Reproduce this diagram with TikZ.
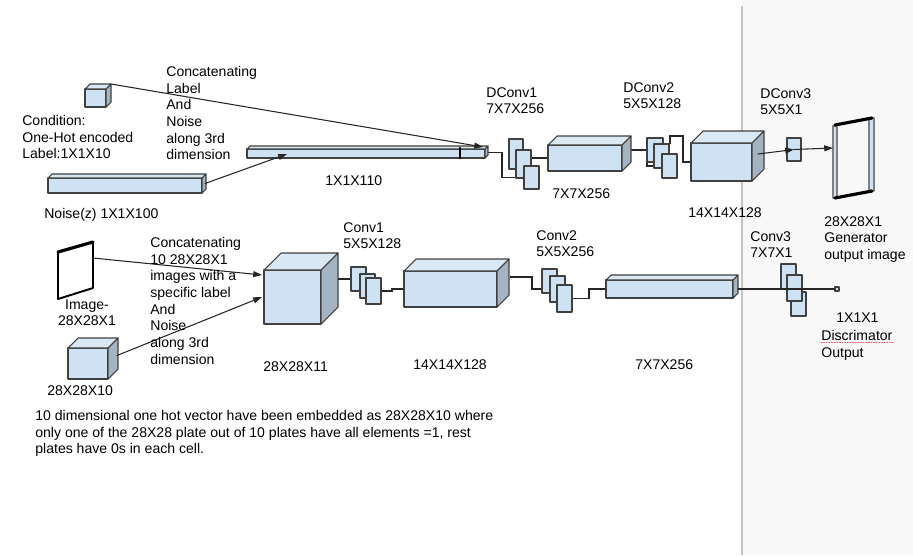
\documentclass[tikz,border=0pt]{standalone}
\usepackage{fontspec}
\setmainfont{Liberation Sans}
\usetikzlibrary{arrows.meta,backgrounds}
\definecolor{facefill}{HTML}{CFE2F3}
\definecolor{topfill}{HTML}{DAE8F4}
\definecolor{sidefill}{HTML}{A5B4C2}
\definecolor{edgegray}{HTML}{404040}
\definecolor{panelgray}{HTML}{F8F8F8}
\definecolor{sepgray}{HTML}{C4C4C4}
\newcommand{\pxu}{0.02cm}
\tikzset{
  face/.style={draw=edgegray, fill=facefill, line width=0.6pt, inner sep=0pt, outer sep=0pt, anchor=north west},
  topf/.style={draw=edgegray, fill=topfill, line width=0.6pt},
  sidef/.style={draw=edgegray, fill=sidefill, line width=0.6pt},
  filt/.style={face, minimum width=15*\pxu, minimum height=24*\pxu},
  lbl/.style={inner sep=0pt, font=\fontsize{8pt}{9.5pt}\selectfont, align=left, anchor=north west},
  wire/.style={line width=0.6pt, draw=black!85},
  arr/.style={wire, -{Triangle[length=5pt,width=3.4pt]}},
  rim/.style={line width=1.8pt, draw=black},
  every picture/.style={line cap=round, line join=round}
}
% name, x, y, width, height, depth (in px)
\newcommand{\cuboid}[6]{%
  \node[face, minimum width=#4*\pxu, minimum height=#5*\pxu] (#1) at (#2,#3) {};
  \filldraw[topf] (#1.north west) -- ++(#6,-#6) -- ++(#4,0) -- (#1.north east) -- cycle;
  \filldraw[sidef] (#1.north east) -- ++(#6,-#6) -- ++(0,#5) -- (#1.south east) -- cycle;
}

\begin{document}
\begin{tikzpicture}[x=0.02cm, y=-0.02cm]
  \useasboundingbox (0,0) rectangle (913,555);
  \begin{scope}[on background layer]
    \fill[white] (0,0) rectangle (742,555);
    \fill[panelgray] (742,0) rectangle (913,555);
    \draw[sepgray, line width=0.8pt] (742,6) -- (742,555);
  \end{scope}

  % generator
  \cuboid{cond}{85}{89}{21}{18}{5}
  \cuboid{noise}{48}{178}{154}{15}{4}
  \cuboid{cat}{247}{149}{238}{9}{3}
  \draw[line width=1.7pt] (460,148) -- (460,158);
  \node[face, minimum width=14*\pxu, minimum height=30*\pxu] (f1a) at (509,139) {};
  \node[face, minimum width=15*\pxu, minimum height=28*\pxu] (f1b) at (516,150) {};
  \node[face, minimum width=15*\pxu, minimum height=23*\pxu] (f1c) at (524,166) {};
  \cuboid{b1}{548}{145}{74}{26}{9}
  \node[filt, minimum width=16*\pxu] (f2a) at (647,138) {};
  \node[filt] (f2b) at (654,144) {};
  \node[filt] (f2c) at (662,154) {};
  \cuboid{b2}{691}{143}{61}{38}{12}
  \node[face, minimum width=14*\pxu, minimum height=23*\pxu] (f3) at (787,138) {};
  \filldraw[face, draw=gray] (833,126) rectangle (837,198);
  \filldraw[face, draw=gray] (869,118) rectangle (874,191);
  \draw[rim] (835,125) -- (872,118);
  \draw[rim] (835,198) -- (872,191);
  \coordinate (gen) at (833,148);

  \begin{scope}[on background layer]
    \draw[wire] (cat.east) ++(3,-1) -- ++(14,0) |- (f1c.west);
    \draw[wire] (f1b.east |- b1.west) -- (b1.west);
    \draw[wire] (b1.east) ++(9,-8) -| ([shift={(-7,-2)}]f2b.south west) -- ([shift={(0,-2)}]f2b.south west);
    \draw[wire] (f2b.north east) ++(1,0) -- ++(0,-8) -| ([shift={(-8,0)}]b2.west) -- (b2.west);
  \end{scope}
  \draw[arr] ([shift={(5,-5)}]cond.north east) -- ([shift={(-2,-2)}]cat.north east);
  \draw[arr] ([shift={(3,-2)}]noise.east) -- ([shift={(40,-4)}]cat.south west);
  \draw[arr] ([shift={(6,-8)}]b2.east) -- (f3.center);
  \draw[arr] (f3.center) -- (gen);

  \node[lbl] (condlbl) at (22,115) {Condition:\\One-Hot encoded\\Label:1X1X10};
  \node[lbl] (noiselbl) at (44,208) {Noise(z) 1X1X100};
  \node[lbl] (joinlbl) at (166,66) {Concatenating\\Label\\And\\Noise\\along 3rd\\dimension};
  \node[lbl] (catlbl) at (325,175) {1X1X110};
  \node[lbl] (dc1lbl) at (486,87) {DConv1\\7X7X256};
  \node[lbl] (b1lbl) at (552,188) {7X7X256};
  \node[lbl] (dc2lbl) at (623,82) {DConv2\\5X5X128};
  \node[lbl] (b2lbl) at (688,207) {14X14X128};
  \node[lbl] (dc3lbl) at (760,88) {DConv3\\5X5X1};
  \node[lbl] (genlbl) at (824,216) {28X28X1\\Generator\\output image};

  % discriminator
  \draw[line width=1.1pt] (58,252) -- (58,299) -- (93,288) -- (93,242);
  \draw[rim] (58,252) -- (93,242);
  \coordinate (img) at (93,258);
  \cuboid{c10}{68}{348}{40}{31}{10}
  \cuboid{b11}{264}{270}{57}{54}{17}
  \node[filt] (f4a) at (351,267) {};
  \node[filt] (f4b) at (360,274) {};
  \node[filt, minimum height=26*\pxu] (f4c) at (366,278) {};
  \cuboid{b3}{404}{271}{93}{36}{12}
  \node[filt] (f5a) at (542,269) {};
  \node[filt, minimum height=26*\pxu] (f5b) at (550,276) {};
  \node[filt, minimum height=27*\pxu] (f5c) at (557,285) {};
  \cuboid{b4}{606}{280}{127}{18}{5}
  \node[filt, minimum height=25*\pxu] (f6a) at (781,264) {};
  \node[filt] (f6c) at (791,292) {};
  \node[filt, minimum height=26*\pxu] (f6b) at (787,275) {};
  \node[draw=edgegray, fill=facefill, line width=0.6pt, minimum size=4*\pxu, inner sep=0pt] (out) at (837,289) {};

  \begin{scope}[on background layer]
    \draw[wire] ([shift={(17,9)}]b11.north east) -- (f4a.west);
    \draw[wire] (f4c.east) -- ++(11,0) |- (b3.west);
    \draw[wire] ([shift={(13,6)}]b3.north east) -- ++(22,0) |- (f5b.west);
    \draw[wire] (f5c.east) -- ++(17,0) |- (b4.west);
  \end{scope}
  \draw[wire] ([shift={(5,0)}]b4.east) -- (out.west);
  \draw[arr] (img) -- ([shift={(-2,5)}]b11.north west);
  \draw[arr] ([shift={(9,-8)}]c10.east) -- ([shift={(-2,27)}]b11.north west);

  \node[lbl, align=center, anchor=north] (imglbl) at (87,299) {Image-\\28X28X1};
  \node[lbl] (c10lbl) at (47,385) {28X28X10};
  \node[lbl] (join2lbl) at (150,237) {Concatenating\\10 28X28X1\\images with a\\specific label\\And\\Noise\\along 3rd\\dimension};
  \node[lbl] (b11lbl) at (263,361) {28X28X11};
  \node[lbl] (c1lbl) at (343,222) {Conv1\\5X5X128};
  \node[lbl] (b3lbl) at (413,359) {14X14X128};
  \node[lbl] (c2lbl) at (536,230) {Conv2\\5X5X256};
  \node[lbl] (b4lbl) at (635,359) {7X7X256};
  \node[lbl] (c3lbl) at (750,231) {Conv3\\7X7X1};
  \node[lbl] (outlbl) at (836,312) {1X1X1};
  \node[lbl] (disclbl) at (821,330) {Discrimator\\Output};
  \draw[red!70, densely dotted, line width=0.5pt] (disclbl.west |- 0,342) -- (893,342);
  \node[lbl] (notelbl) at (35,410) {10 dimensional one hot vector have been embedded as 28X28X10 where\\only one of the 28X28 plate out of 10 plates have all elements =1, rest\\plates have 0s in each cell.};
\end{tikzpicture}
\end{document}
